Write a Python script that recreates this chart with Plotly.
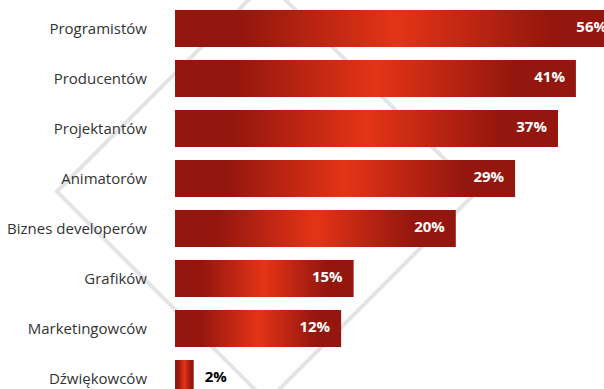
import plotly.graph_objects as go

# ---- data ----
categories = ["Programistów", "Producentów", "Projektantów", "Animatorów",
              "Biznes developerów", "Grafików", "Marketingowców", "Dźwiękowców"]
percent_labels = ["56%", "41%", "37%", "29%", "20%", "15%", "12%", "2%"]
# bar lengths as drawn in the picture (index units)
bar_length = [56.8, 51.4, 49.1, 43.6, 36.0, 22.9, 21.3, 2.4]

# ---- style ----
W, H = 604, 389
ML = 175
DARK = "rgb(148,22,14)"
BRIGHT = "rgb(228,52,22)"
HALF = 0.37
XMAX = 55.0

fig = go.Figure()

for i, L in enumerate(bar_length):
    fig.add_trace(go.Scatter(
        x=[0, L, L, 0, 0],
        y=[i - HALF, i - HALF, i + HALF, i + HALF, i - HALF],
        mode="lines", line=dict(width=0, color=DARK),
        fill="toself",
        fillgradient=dict(type="horizontal", start=0, stop=L,
                          colorscale=[[0, DARK], [0.15, DARK], [0.5, BRIGHT],
                                      [0.85, DARK], [1, DARK]]),
        hoverinfo="skip", showlegend=False,
    ))

inside = [L > 5 for L in bar_length]
fig.add_trace(go.Scatter(
    x=bar_length, y=list(range(len(categories))),
    mode="markers+text",
    marker=dict(size=16, color="rgba(0,0,0,0)"),
    text=percent_labels,
    textposition=["middle left" if f else "middle right" for f in inside],
    textfont=dict(family="Open Sans", size=15, weight="bold",
                  color=["white" if f else "black" for f in inside]),
    cliponaxis=True, hoverinfo="skip", showlegend=False,
))

# decorative diamond (pixel geometry -> paper coords)
pw, ph = W - ML, H
def px(xp, yp):
    return (xp - ML) / pw, 1 - yp / ph
verts = [px(57, 191.5), px(267, -18.5), px(477, 191.5), px(267, 401.5)]
path = "M " + " L ".join(f"{a:.4f},{b:.4f}" for a, b in verts) + " Z"
fig.add_shape(type="path", path=path, xref="paper", yref="paper",
              line=dict(color="rgb(228,228,228)", width=4), layer="below")

fig.update_layout(
    width=W, height=H,
    margin=dict(l=ML, r=0, t=0, b=0),
    paper_bgcolor="white", plot_bgcolor="rgba(0,0,0,0)",
    font=dict(family="Open Sans", color="#333"),
    xaxis=dict(range=[0, XMAX], visible=False, fixedrange=True),
    yaxis=dict(range=[7.21, -0.57], tickvals=list(range(len(categories))),
               ticktext=categories, showgrid=False, zeroline=False,
               showline=False, ticks="outside", ticklen=24,
               tickcolor="rgba(0,0,0,0)", automargin=False, fixedrange=True,
               tickfont=dict(family="Open Sans", size=15, color="#333")),
)

fig.write_html("out.html", config={"displayModeBar": False},
               post_script="document.body.style.margin='0';")
